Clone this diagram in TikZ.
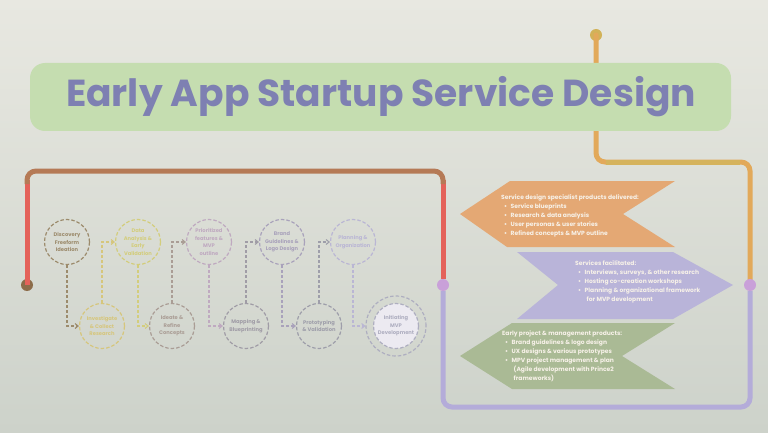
\documentclass[tikz,border=0pt]{standalone}
\usepackage{fontspec}
\setmainfont{Poppins}
\usetikzlibrary{arrows.meta}
\definecolor{bgtop}{HTML}{E8E8E1}
\definecolor{bgbot}{HTML}{CDD2CA}
\definecolor{titlebox}{HTML}{C5DDB0}
\definecolor{titletext}{HTML}{7E80B2}
\definecolor{redline}{HTML}{E4625A}
\definecolor{brownline}{HTML}{B57A56}
\definecolor{browndot}{HTML}{8C6C4A}
\definecolor{orangeline}{HTML}{E2A95A}
\definecolor{oliveline}{HTML}{D5B35C}
\definecolor{olivedot}{HTML}{D2B258}
\definecolor{purpleline}{HTML}{B4ACD9}
\definecolor{purpledot}{HTML}{C9A0D9}
\definecolor{bannerorange}{HTML}{E4A874}
\definecolor{bannerpurple}{HTML}{B9B4D9}
\definecolor{bannergreen}{HTML}{AABA95}
\definecolor{bannertext}{HTML}{F7F1E8}
\definecolor{ca}{HTML}{9C8B6C}
\definecolor{cb}{HTML}{D6C67C}
\definecolor{cc}{HTML}{D3CD7C}
\definecolor{cd}{HTML}{AA9D95}
\definecolor{ce}{HTML}{BFA9C0}
\definecolor{cf}{HTML}{A09CA6}
\definecolor{cg}{HTML}{A9A2BB}
\definecolor{ch}{HTML}{9E9EAA}
\definecolor{ci}{HTML}{BAB6D4}
\definecolor{cj}{HTML}{AEAEC0}
\definecolor{innerfill}{HTML}{ECEAF1}
\newcommand\bitem{\hspace*{3pt}\textbullet\hspace{3.5pt}}
\newcommand\bcont{\hspace*{11.5pt}}
\tikzset{
  stepcirc/.style={circle, draw=#1, text=#1, dash pattern=on 3.5pt off 2pt,
    line width=1.2pt, minimum size=45pt, inner sep=0pt, align=center,
    font=\fontsize{5.2}{7.6}\selectfont\bfseries},
  flowline/.style={draw=#1, dash pattern=on 3pt off 2pt, line width=1.1pt,
    -{Straight Barb[length=3pt,width=5pt]}},
  track/.style={line width=5pt, rounded corners=9pt, line cap=round},
  enddot/.style={circle, fill=#1, minimum size=12pt, inner sep=0pt},
  bannertxt/.style={anchor=north west, align=left, text=bannertext,
    inner sep=0pt, font=\fontsize{6}{9}\selectfont\bfseries}
}
\begin{document}
\begin{tikzpicture}[x=1pt,y=-1pt]
\useasboundingbox (0,0) rectangle (768,433);
\fill[top color=bgtop, bottom color=bgbot] (0,0) rectangle (768,433);

% orange track
\node[enddot=olivedot] (od) at (596,35) {};
\draw[track, orangeline] (od.center) -- (596,162) -- (750,162) -- (750,285);
\draw[line width=5pt, oliveline] (606,162) -- (740,162);

% title
\fill[titlebox, rounded corners=15pt] (30,63) rectangle (731,131);
\node[text=titletext, font=\fontsize{37.6}{37.6}\selectfont\bfseries] (title) at (381,97) {Early App Startup Service Design};

% red/brown track
\node[enddot=browndot] (rd) at (27,285) {};
\node[enddot=purpledot] (pd1) at (443,285) {};
\node[enddot=purpledot] (pd2) at (750,285) {};
\draw[line width=5pt, redline] (rd.center) -- (27,180);
\draw[line width=5pt, redline] (443,180) -- (443,279);
\draw[track, brownline, line cap=butt] (27,184) -- (27,171) -- (443,171) -- (443,184);

% purple track
\draw[track, purpleline, line cap=butt] (pd1.south) -- (443,407) -- (750,407) -- (pd2.south);

% banners
\fill[bannerorange] (460,214) -- (510,181) -- (675,181) -- (623,214) -- (675,247) -- (507,247) -- cycle;
\fill[bannerpurple] (517,252) -- (673,252) -- (733,285) -- (673,319) -- (517,319) -- (558,285) -- cycle;
\fill[bannergreen] (460,356) -- (512,323) -- (675,323) -- (622,356) -- (675,389) -- (512,389) -- cycle;

\node[bannertxt] (t1txt) at (501,194) {Service design specialist products delivered:\\
\bitem Service blueprints\\
\bitem Research \& data analysis\\
\bitem User personas \& user stories\\
\bitem Refined concepts \& MVP outline};

\node[bannertxt] (t2txt) at (575,260) {Services facilitated:\\
\bitem Interviews, surveys, \& other research\\
\bitem Hosting co-creation workshops\\
\bitem Planning \& organizational framework\\
\bcont for MVP development};

\node[bannertxt] (t3txt) at (502,330) {Early project \& management products:\\
\bitem Brand guidelines \& logo design\\
\bitem UX designs \& various prototypes\\
\bitem MPV project management \& plan\\
\bcont (Agile development with Prince2\\
\bcont frameworks)};

% process circles
\node[stepcirc=ca] (s1) at (67,242) {Discovery\\Freeform\\Ideation};
\node[stepcirc=cb] (s2) at (102,326) {Investigate\\\& Collect\\Research};
\node[stepcirc=cc] (s3) at (138,242) {Data\\Analysis \&\\Early\\Validation};
\node[stepcirc=cd] (s4) at (172,326) {Ideate \&\\Refine\\Concepts};
\node[stepcirc=ce] (s5) at (209,242) {Prioritized\\features \&\\MVP\\outline};
\node[stepcirc=cf] (s6) at (246,326) {Mapping \&\\Blueprinting};
\node[stepcirc=cg] (s7) at (282,242) {Brand\\Guidelines \&\\Logo Design};
\node[stepcirc=ch] (s8) at (319,326) {Prototyping\\\& Validation};
\node[stepcirc=ci] (s9) at (353,242) {Planning \&\\Organization};
\node[stepcirc=cj, minimum size=60pt] (s10) at (396,326) {};
\node[stepcirc=cj, minimum size=45pt, fill=innerfill] (s10in) at (s10) {Initiating\\MVP\\Development};

\draw[flowline=ca] (s1.south) |- (s2.west);
\draw[flowline=cb] (s2.north) |- (s3.west);
\draw[flowline=cc] (s3.south) |- (s4.west);
\draw[flowline=cd] (s4.north) |- (s5.west);
\draw[flowline=ce] (s5.south) |- (s6.west);
\draw[flowline=cf] (s6.north) |- (s7.west);
\draw[flowline=cg] (s7.south) |- (s8.west);
\draw[flowline=ch] (s8.north) |- (s9.west);
\draw[flowline=ci] (s9.south) |- (s10.west);
\end{tikzpicture}
\end{document}
